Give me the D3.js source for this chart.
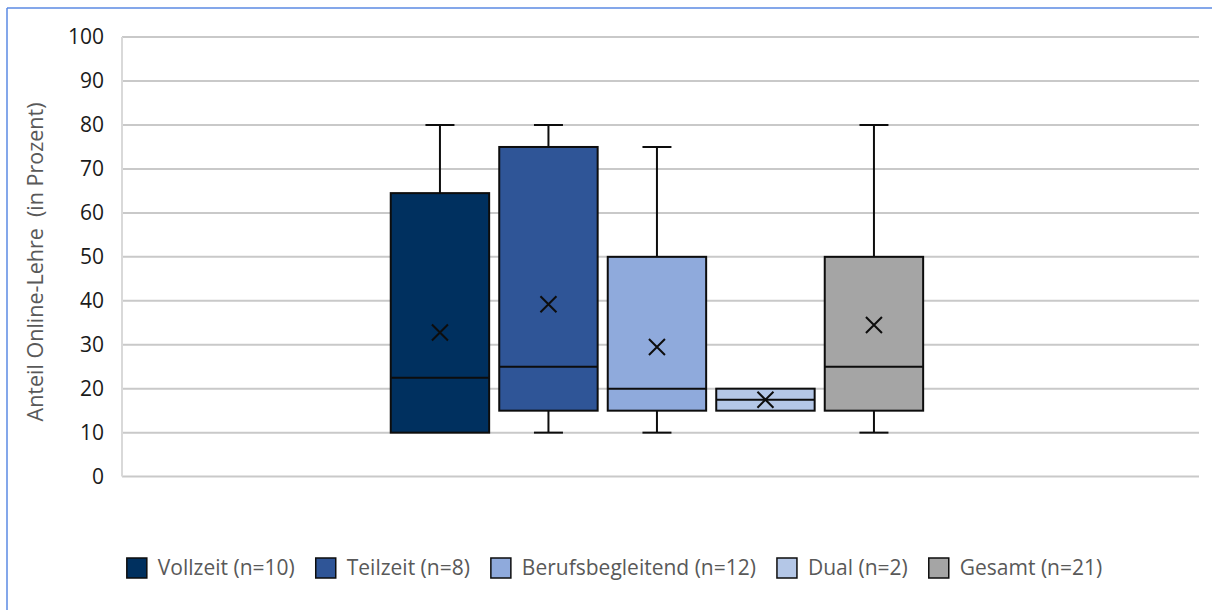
<!DOCTYPE html>
<html>
<head>
<meta charset="utf-8">
<script src="https://cdn.jsdelivr.net/npm/d3@7"></script>
<style>
  html, body { margin: 0; padding: 0; background: #fff; }
  svg { display: block; }
  text { font-family: "Open Sans", "Noto Sans", sans-serif; }
</style>
</head>
<body>
<svg id="chart" width="1212" height="610"></svg>
<script>
// ---- data ----
const series = ["Vollzeit (n=10)", "Teilzeit (n=8)", "Berufsbegleitend (n=12)", "Dual (n=2)", "Gesamt (n=21)"];
const colors = ["#00305f", "#2f5597", "#8faadc", "#b4c7e7", "#a5a5a5"];
const minVals    = [10, 10, 10, 15, 10];
const q1Vals     = [10, 15, 15, 15, 15];
const medianVals = [22.5, 25, 20, 17.5, 25];
const q3Vals     = [64.5, 75, 50, 20, 50];
const maxVals    = [80, 80, 75, 20, 80];
const meanVals   = [32.8, 39.2, 29.5, 17.5, 34.5];
const yTicks     = [0, 10, 20, 30, 40, 50, 60, 70, 80, 90, 100];
const yTitle     = "Anteil Online-Lehre\u00a0 (in Prozent)";

const rows = series.map((s, i) => ({
  name: s, color: colors[i], min: minVals[i], q1: q1Vals[i],
  med: medianVals[i], q3: q3Vals[i], max: maxVals[i], mean: meanVals[i]
}));

// ---- layout ----
const svg = d3.select("#chart");
const plot = { left: 122, right: 1199, top: 37.1, bottom: 476.6 };

// frame
svg.append("line").attr("x1", 7).attr("x2", 1212).attr("y1", 8).attr("y2", 8)
  .attr("stroke", "#5b8ae3").attr("stroke-width", 1.5);
svg.append("line").attr("x1", 7).attr("x2", 7).attr("y1", 8).attr("y2", 610)
  .attr("stroke", "#5b8ae3").attr("stroke-width", 1.5);

const y = d3.scaleLinear().domain([0, 100]).range([plot.bottom, plot.top]);
const x = d3.scaleBand().domain(series).range([385.7, 928.2])
  .paddingInner(0.093).paddingOuter(0.0465);

// gridlines
svg.append("g").selectAll("line").data(yTicks).join("line")
  .attr("x1", plot.left).attr("x2", plot.right)
  .attr("y1", d => y(d)).attr("y2", d => y(d))
  .attr("stroke", "#c9c9c9").attr("stroke-width", 2);
// left axis line
svg.append("line").attr("x1", plot.left).attr("x2", plot.left)
  .attr("y1", plot.top).attr("y2", plot.bottom)
  .attr("stroke", "#d9d9d9").attr("stroke-width", 2);

// y axis labels
const yAxis = d3.axisLeft(y).tickValues(yTicks).tickSize(0).tickPadding(18);
const gy = svg.append("g").attr("transform", `translate(${plot.left},0)`).call(yAxis);
gy.select(".domain").remove();
gy.selectAll("text").attr("font-size", 21).attr("fill", "#1a1a1a")
  .style("font-family", '"Open Sans", sans-serif');

// y title
svg.append("text").attr("transform", "translate(43,262) rotate(-90)")
  .attr("text-anchor", "middle").attr("font-size", 21.5).attr("fill", "#595959")
  .text(yTitle);

// boxes
const bw = x.bandwidth();
const capW = 29;
const g = svg.append("g");
rows.forEach(d => {
  const cx = x(d.name) + bw / 2;
  if (d.max > d.q3) {
    g.append("line").attr("x1", cx).attr("x2", cx).attr("y1", y(d.q3)).attr("y2", y(d.max))
      .attr("stroke", "#0d0d0d").attr("stroke-width", 2);
    g.append("line").attr("x1", cx - capW / 2).attr("x2", cx + capW / 2)
      .attr("y1", y(d.max)).attr("y2", y(d.max)).attr("stroke", "#0d0d0d").attr("stroke-width", 2);
  }
  if (d.min < d.q1) {
    g.append("line").attr("x1", cx).attr("x2", cx).attr("y1", y(d.q1)).attr("y2", y(d.min))
      .attr("stroke", "#0d0d0d").attr("stroke-width", 2);
    g.append("line").attr("x1", cx - capW / 2).attr("x2", cx + capW / 2)
      .attr("y1", y(d.min)).attr("y2", y(d.min)).attr("stroke", "#0d0d0d").attr("stroke-width", 2);
  }
  g.append("rect").attr("x", x(d.name)).attr("width", bw)
    .attr("y", y(d.q3)).attr("height", y(d.q1) - y(d.q3))
    .attr("fill", d.color).attr("stroke", "#0d0d0d").attr("stroke-width", 2);
  g.append("line").attr("x1", x(d.name)).attr("x2", x(d.name) + bw)
    .attr("y1", y(d.med)).attr("y2", y(d.med)).attr("stroke", "#0d0d0d").attr("stroke-width", 2);
  const s = 8, my = y(d.mean);
  g.append("path")
    .attr("d", `M${cx - s},${my - s}L${cx + s},${my + s}M${cx - s},${my + s}L${cx + s},${my - s}`)
    .attr("stroke", "#0d0d0d").attr("stroke-width", 2).attr("fill", "none");
});

// legend
const leg = svg.append("g");
let lx = 0;
rows.forEach(d => {
  const it = leg.append("g").attr("transform", `translate(${lx},0)`);
  it.append("rect").attr("x", 0).attr("y", -10).attr("width", 20).attr("height", 20)
    .attr("fill", d.color).attr("stroke", "#0d0d0d").attr("stroke-width", 1.5);
  const t = it.append("text").attr("x", 31).attr("y", 0).attr("dy", "0.35em")
    .attr("font-size", 21).attr("fill", "#595959").text(d.name);
  lx += 31 + t.node().getComputedTextLength() + 21;
});
const total = lx - 21;
leg.attr("transform", `translate(${614.5 - total / 2},568)`);
</script>
</body>
</html>
